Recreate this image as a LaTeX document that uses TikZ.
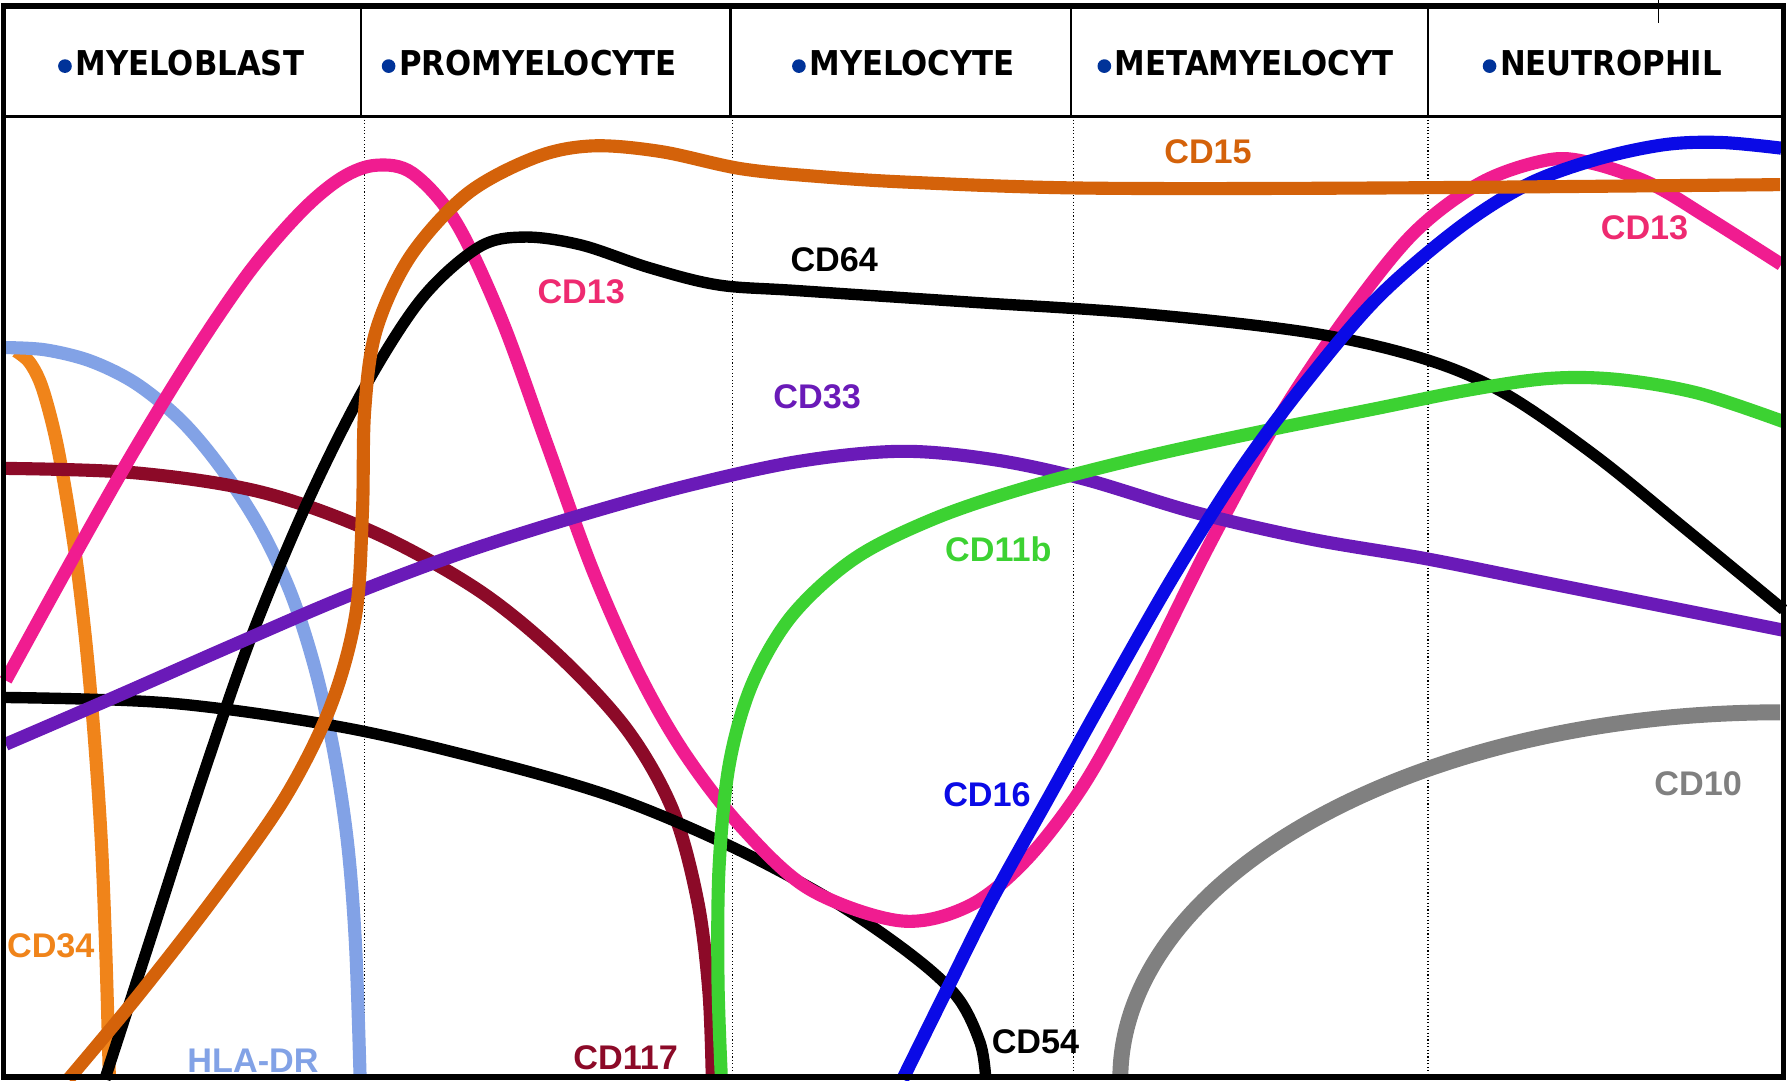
\documentclass[tikz,border=0pt]{standalone}
\usepackage{fontspec}
\setmainfont{Liberation Sans}
\newfontfamily\hdrfont{DejaVu Sans}
\definecolor{cHLA}{HTML}{82A2E6}
\definecolor{cCDa}{HTML}{F0841A}
\definecolor{cCDb}{HTML}{8C0A28}
\definecolor{cTen}{HTML}{808080}
\definecolor{cPink}{HTML}{F01C90}
\definecolor{cPinkTxt}{HTML}{EE2A70}
\definecolor{cBrown}{HTML}{D4620A}
\definecolor{cPurple}{HTML}{6A1AB8}
\definecolor{cGreen}{HTML}{3CD232}
\definecolor{cBlue}{HTML}{0A0AE6}
\definecolor{cBullet}{HTML}{003399}
\tikzset{
  curve/.style={line width=11.5pt, line cap=butt, smooth, tension=0.55},
  kcurve/.style={curve, line width=10pt, black},
  lbl/.style={font=\fontsize{30}{32}\selectfont\bfseries, inner sep=0pt},
  hdr/.style={font=\hdrfont\fontsize{30}{32}\selectfont\bfseries, inner sep=0pt, anchor=base west},
  bullet/.style={fill=cBullet},
  divider/.style={line width=2pt},
  dots/.style={line width=1pt, dotted}
}
\newcommand{\hx}[1]{\scalebox{0.9}[1]{#1}}
\begin{document}
\begin{tikzpicture}[x=1pt,y=-1pt]
\useasboundingbox (0,0) rectangle (1568,948);
\fill[white] (0,0) rectangle (1568,948);

% dotted stage dividers
\foreach \xx in {320,643,942,1253}
  \draw[dots] (\xx,102) -- (\xx,945);

% curves
\draw[curve, cCDa] plot coordinates {(14,308) (26,318) (37,340) (49,385) (59,440) (68,500) (76,570) (83,650) (89,740) (93,840) (96,947)};
\draw[curve, cHLA] plot coordinates {(5,305) (40,307) (80,317) (120,337) (160,370) (195,412) (228,463) (255,520) (276,585) (293,660) (305,740) (312,830) (316,947)};
\draw[curve, cCDb] plot coordinates {(5,411) (120,415) (230,432) (330,468) (420,518) (490,575) (550,640) (590,710) (612,790) (622,870) (625,947)};
\draw[kcurve] plot coordinates {(5,612) (150,617) (300,638) (430,668) (540,700) (640,742) (730,790) (800,838) (840,875) (860,915) (865,947)};
\draw[curve, cPink] plot coordinates {(5,597) (60,497) (115,400) (170,310) (220,237) (265,185) (300,156) (330,145) (362,152) (400,195) (440,280) (480,390) (520,500) (560,590) (600,660) (650,725) (710,780) (790,808) (850,795) (900,755) (950,690) (1000,600) (1060,480) (1120,370) (1180,280) (1240,205) (1300,160) (1360,140) (1400,144) (1450,162) (1500,192) (1563,232)};
\draw[kcurve] plot coordinates {(92,947) (130,830) (175,690) (220,560) (270,440) (320,340) (370,262) (420,217) (460,208) (510,215) (570,235) (630,250) (700,255) (850,265) (1000,275) (1150,292) (1250,315) (1320,345) (1400,400) (1480,465) (1565,535)};
\draw[curve, cPurple] plot coordinates {(5,653) (100,612) (200,568) (300,525) (400,487) (500,455) (600,427) (700,405) (790,396) (870,403) (950,420) (1050,450) (1150,473) (1250,490) (1350,510) (1450,530) (1565,553)};
\draw[curve, cGreen] plot coordinates {(633,947) (630,860) (631,760) (640,670) (660,600) (695,540) (750,490) (820,455) (900,428) (1000,402) (1100,380) (1200,360) (1290,342) (1360,332) (1420,333) (1490,345) (1565,370)};
\draw[curve, cBlue] plot coordinates {(792,947) (830,870) (870,790) (920,700) (970,610) (1030,505) (1090,410) (1150,330) (1210,260) (1280,200) (1340,162) (1400,140) (1460,127) (1510,125) (1563,130)};
\draw[curve, cBrown] plot coordinates {(60,947) (120,875) (190,785) (250,700) (290,620) (312,540) (318,450) (320,360) (330,290) (360,225) (410,170) (470,138) (520,128) (580,133) (650,148) (720,155) (800,160) (950,165) (1200,165) (1562,162)};
\draw[cTen, line width=14pt] (983,947) arc[start angle=180, end angle=270, x radius=579, y radius=322];

% labels
\node[lbl, cBrown] (l15) at (1060,133) {CD15};
\node[lbl, cPinkTxt] (l13a) at (510,256) {CD13};
\node[lbl, cPinkTxt] (l13b) at (1443,200) {CD13};
\node[lbl, black] (l64) at (732,228) {CD64};
\node[lbl, cPurple] (l33) at (717,348) {CD33};
\node[lbl, cGreen] (l11) at (876,482) {CD11b};
\node[lbl, cBlue] (l16) at (866,697) {CD16};
\node[lbl, cTen] (l10) at (1490,688) {CD10};
\node[lbl, cCDa, anchor=west] (l34) at (6,830) {CD34};
\node[lbl, cHLA] (lhla) at (222,931) {HLA-DR};
\node[lbl, cCDb] (l117) at (549,928) {CD117};
\node[lbl, black, anchor=west] (l54) at (870,914) {CD54};

% header
\fill[white] (3,5) rectangle (1565,102);
\node[hdr] (h1) at (66,66) {\hx{MYELOBLAST}};
\node[hdr] (h2) at (350,66) {\hx{PROMYELOCYTE}};
\node[hdr] (h3) at (710,66) {\hx{MYELOCYTE}};
\node[hdr] (h4) at (978,66) {\hx{METAMYELOCYT}};
\node[hdr] (h5) at (1316,66) {\hx{NEUTROPHIL}};
\foreach \nm in {h1,h2,h3,h4,h5}
  \fill[bullet] ([xshift=-9pt, yshift=8pt]\nm.base west) circle (6pt);
\foreach \xx in {317,641,940,1253}
  \draw[divider] (\xx,5) -- (\xx,102);
\draw[line width=3pt] (3,102) -- (1565,102);
\draw[line width=1.2pt] (1455,0) -- (1455,20);
% frame
\draw[line width=5pt] (3,5) rectangle (1565,945);
\end{tikzpicture}
\end{document}
